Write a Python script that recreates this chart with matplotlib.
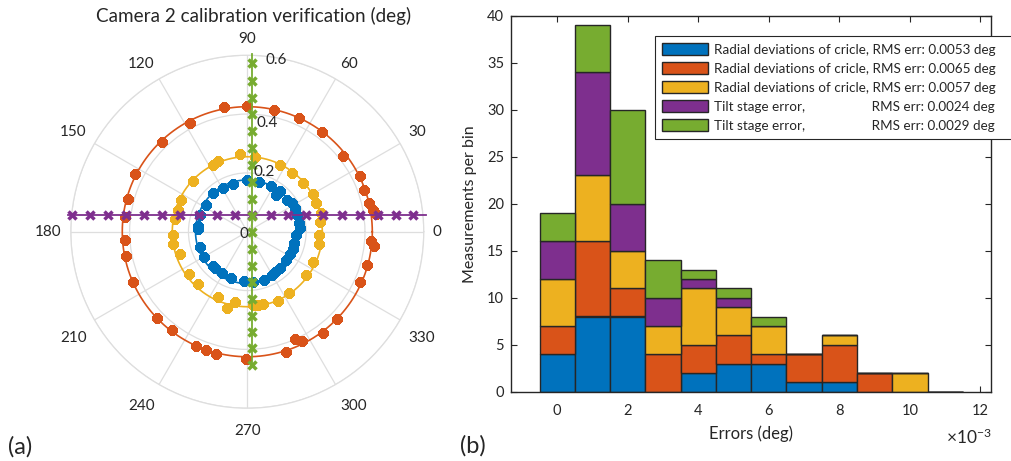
import numpy as np
import matplotlib
matplotlib.use('Agg')
import matplotlib.pyplot as plt
from matplotlib.patches import Patch
from matplotlib.transforms import offset_copy

plt.rcParams['font.family'] = ['Lato', 'DejaVu Sans']
plt.rcParams['mathtext.fontset'] = 'custom'
plt.rcParams['mathtext.rm'] = 'Lato'
plt.rcParams['mathtext.it'] = 'Lato:italic'
plt.rcParams['mathtext.bf'] = 'Lato:bold'

# ---------------- Panel (a): polar data ----------------
blue_theta_deg = [90.7, 76.5, 62.9, 51.5, 52.0, 38.8, 32.6, 26.7, 18.7, 9.8, 3.6, 356.1, 346.0,
                  339.1, 332.4, 323.5, 311.7, 304.7, 299.3, 289.4, 276.1, 266.1, 250.7, 238.4,
                  228.6, 224.4, 210.2, 197.6, 177.3, 173.4, 160.6, 147.2, 131.6, 119.7, 106.5]
blue_r = [0.176, 0.175, 0.174, 0.178, 0.158, 0.172, 0.179, 0.182, 0.177, 0.180, 0.180, 0.166, 0.164,
          0.165, 0.164, 0.162, 0.167, 0.165, 0.169, 0.174, 0.171, 0.168, 0.168, 0.166,
          0.166, 0.165, 0.169, 0.169, 0.167, 0.168, 0.171, 0.167, 0.174, 0.170, 0.168]

orange_theta_deg = [100.6, 90.0, 77.6, 65.4, 53.2, 38.4, 26.4, 19.6, 13.4, 9.8, 7.8, 355.8, 353.5,
                    344.5, 336.1, 315.9, 306.8, 293.9, 296.5, 287.7, 269.4, 255.7, 250.6, 245.7,
                    232.5, 223.7, 203.7, 191.3, 183.9, 173.0, 164.8, 153.0, 133.4, 117.7]
orange_r = [0.430, 0.427, 0.424, 0.424, 0.422, 0.416, 0.428, 0.422, 0.426, 0.432, 0.441, 0.421, 0.434,
            0.423, 0.419, 0.426, 0.431, 0.400, 0.414, 0.428, 0.433, 0.430, 0.427, 0.427,
            0.419, 0.426, 0.423, 0.422, 0.415, 0.419, 0.419, 0.429, 0.421, 0.419]

yellow_theta_deg = [95.4, 84.2, 63.8, 52.7, 40.8, 29.7, 22.9, 14.0, 7.8, 357.3, 350.3, 335.1, 323.4,
                    304.3, 293.7, 282.4, 278.5, 274.7, 260.1, 254.9, 246.0, 227.1, 216.1, 198.4,
                    189.6, 182.6, 170.3, 162.6, 154.5, 136.8, 117.5, 112.3]
yellow_r = [0.264, 0.256, 0.251, 0.252, 0.252, 0.258, 0.253, 0.257, 0.249, 0.245, 0.248, 0.248, 0.247,
            0.251, 0.256, 0.253, 0.252, 0.250, 0.244, 0.270, 0.242, 0.244, 0.244, 0.241,
            0.257, 0.252, 0.250, 0.246, 0.250, 0.252, 0.255, 0.260]

# fitted circle radii
blue_fit_r = 0.176
orange_fit_r = 0.425
yellow_fit_r = 0.255

# tilt stage errors (cartesian offsets)
purple_x = [-0.597, -0.535, -0.473, -0.412, -0.350, -0.289, -0.229, -0.164, -0.104, -0.042,
            0.017, 0.080, 0.139, 0.200, 0.258, 0.321, 0.383, 0.443, 0.505, 0.564]
purple_y = 0.057
purple_line_x = [-0.61, 0.607]

green_x = 0.015
green_y = [0.573, 0.513, 0.456, 0.399, 0.342, 0.284, 0.227, 0.170, 0.111, 0.054, -0.002,
           -0.059, -0.116, -0.172, -0.229, -0.286, -0.342, -0.396, -0.453]
green_line_y = [0.604, -0.453]

theta_ticks = list(range(0, 360, 30))
r_ticks = [0, 0.2, 0.4, 0.6]
r_tick_labels = ['0', '0.2', '0.4', '0.6']

# ---------------- Panel (b): histogram data ----------------
bin_centers = [0.000, 0.001, 0.002, 0.003, 0.004, 0.005, 0.006, 0.007, 0.008, 0.009, 0.010, 0.011]
counts_blue = [4, 8, 8, 0, 2, 3, 3, 1, 1, 0, 0, 0]
counts_orange = [3, 8, 3, 4, 3, 3, 1, 3, 4, 2, 0, 0]
counts_yellow = [5, 7, 4, 3, 6, 3, 3, 0, 1, 0, 2, 0]
counts_purple = [4, 11, 5, 3, 1, 1, 0, 0, 0, 0, 0, 0]
counts_green = [3, 5, 10, 4, 1, 1, 1, 0, 0, 0, 0, 0]

legend_labels = [
    "Radial deviations of cricle, RMS err: 0.0053 deg",
    "Radial deviations of cricle, RMS err: 0.0065 deg",
    "Radial deviations of cricle, RMS err: 0.0057 deg",
    "Tilt stage error,                   RMS err: 0.0024 deg",
    "Tilt stage error,                   RMS err: 0.0029 deg",
]
x_tick_values = [0, 0.002, 0.004, 0.006, 0.008, 0.010, 0.012]
x_tick_labels = ['0', '2', '4', '6', '8', '10', '12']

C_BLUE = '#0072BD'
C_ORANGE = '#D95319'
C_YELLOW = '#EDB120'
C_PURPLE = '#7E2F8E'
C_GREEN = '#77AC30'
TXT = '#262626'
GRID = '#dedede'

fig = plt.figure(figsize=(10.11, 4.61), dpi=100)

# ---------------- polar axes ----------------
axp = fig.add_axes([0.0700, 0.1145, 0.3492, 0.7657], projection='polar')
axp.set_rlim(0, 0.6)
axp.set_rticks(r_ticks)
axp.set_yticklabels([])
axp.set_thetagrids(theta_ticks, labels=[])
axp.grid(True, color=GRID, lw=0.9)
axp.spines['polar'].set_color(GRID)
axp.spines['polar'].set_linewidth(0.9)

# angular tick labels, anchored by their edge just outside the rim
r_out = 0.6 * (1 + 9 / 176.5)
tr_down = offset_copy(axp.transData, fig=fig, x=0, y=-5, units='points')
for t in theta_ticks:
    c, s = np.cos(np.deg2rad(t)), np.sin(np.deg2rad(t))
    ha = 'left' if c > 0.1 else ('right' if c < -0.1 else 'center')
    va = 'bottom' if s > 0.1 else ('top' if s < -0.1 else 'center')
    kw = dict(transform=tr_down) if va == 'top' else {}
    axp.text(np.deg2rad(t), r_out, str(t), ha=ha, va=va, fontsize=11, color=TXT,
             clip_on=False, **kw)

# radial tick labels
r_label_pos = [(211, 0.014), (74.2, 0.211), (79.5, 0.376), (80.3, 0.591)]
for (ang, rr), lab in zip(r_label_pos, r_tick_labels):
    axp.text(np.deg2rad(ang), rr, lab, ha='center', va='center', fontsize=11, color=TXT, zorder=10)

circ_t = np.linspace(0, 2 * np.pi, 361)
ast = (8, 2, 0)
for th, rr, fr, col in [(blue_theta_deg, blue_r, blue_fit_r, C_BLUE),
                        (orange_theta_deg, orange_r, orange_fit_r, C_ORANGE),
                        (yellow_theta_deg, yellow_r, yellow_fit_r, C_YELLOW)]:
    axp.plot(circ_t, np.full_like(circ_t, fr), color=col, lw=1.2, zorder=3)
    axp.plot(np.deg2rad(th), rr, linestyle='none', marker=ast, ms=7.2, mew=3.0,
             color=col, zorder=4)

# purple horizontal tilt line
px = np.asarray(purple_x)
py = np.full_like(px, purple_y)
plx = np.asarray(purple_line_x)
ply = np.full_like(plx, purple_y)
axp.plot(np.arctan2(ply, plx), np.hypot(plx, ply), color=C_PURPLE, lw=1.3, zorder=5, clip_on=False)
axp.plot(np.arctan2(py, px), np.hypot(px, py), linestyle='none', marker='x', ms=5.2, mew=2.5,
         color=C_PURPLE, zorder=6, clip_on=False)

# green vertical tilt line
gy = np.asarray(green_y)
gx = np.full_like(gy, green_x)
gly = np.asarray(green_line_y)
glx = np.full_like(gly, green_x)
axp.plot(np.arctan2(gly, glx), np.hypot(glx, gly), color=C_GREEN, lw=1.3, zorder=7, clip_on=False)
axp.plot(np.arctan2(gy, gx), np.hypot(gx, gy), linestyle='none', marker='x', ms=5.2, mew=2.5,
         color=C_GREEN, zorder=8, clip_on=False)

fig.text(254 / 1011, 1 - 16 / 461, 'Camera 2 calibration verification (deg)',
         ha='center', va='center', fontsize=13.6, color=TXT)

# ---------------- histogram axes ----------------
axh = fig.add_axes([511 / 1011, 1 - 391.7 / 461, 480 / 1011, 376 / 461])
width = 0.001
bottom = np.zeros(len(bin_centers))
series = [(counts_blue, C_BLUE), (counts_orange, C_ORANGE), (counts_yellow, C_YELLOW),
          (counts_purple, C_PURPLE), (counts_green, C_GREEN)]
for cnt, col in series:
    cnt = np.asarray(cnt, dtype=float)
    axh.bar(bin_centers, cnt, width=width, bottom=bottom, color=col, edgecolor='#262626',
            linewidth=1.0, zorder=2)
    bottom = bottom + cnt

axh.set_xlim(-0.00131, 0.0123)
axh.set_ylim(0, 40)
axh.set_xticks(x_tick_values)
axh.set_xticklabels(x_tick_labels)
axh.set_yticks(range(0, 41, 5))
axh.tick_params(direction='in', top=True, right=True, length=4.5, width=0.8,
                labelsize=10.5, colors=TXT)
axh.tick_params(axis='x', pad=9)
axh.tick_params(axis='y', pad=5)
for sp in axh.spines.values():
    sp.set_color(TXT)
    sp.set_linewidth(1.0)
axh.set_xlabel('Errors (deg)', fontsize=12, color=TXT, labelpad=5)
axh.set_ylabel('Measurements per bin', fontsize=11.5, color=TXT, labelpad=7)
fig.text(992 / 1011, 1 - 437 / 461, r'$\times10^{-3}$', ha='right', va='center',
         fontsize=12.5, color=TXT)

handles = [Patch(facecolor=c, edgecolor='#262626', linewidth=1.0) for _, c in series]
leg = axh.legend(handles, legend_labels, loc='upper left', mode='expand',
                 bbox_to_anchor=(655 / 1011, 1 - 35.7 / 461, 380 / 1011, 0),
                 bbox_transform=fig.transFigure,
                 fontsize=9.75, handlelength=3.35, handleheight=1.0, labelspacing=0.46,
                 handletextpad=0.45, borderpad=0.55, borderaxespad=0, frameon=True,
                 fancybox=False, edgecolor='#262626', framealpha=1)
leg.get_frame().set_linewidth(0.8)
for t in leg.get_texts():
    t.set_color(TXT)

fig.text(8 / 1011, 1 - 447 / 461, '(a)', ha='left', va='center', fontsize=17, color=TXT)
fig.text(460 / 1011, 1 - 446 / 461, '(b)', ha='left', va='center', fontsize=17, color=TXT)

fig.savefig('out.png', dpi=100)
